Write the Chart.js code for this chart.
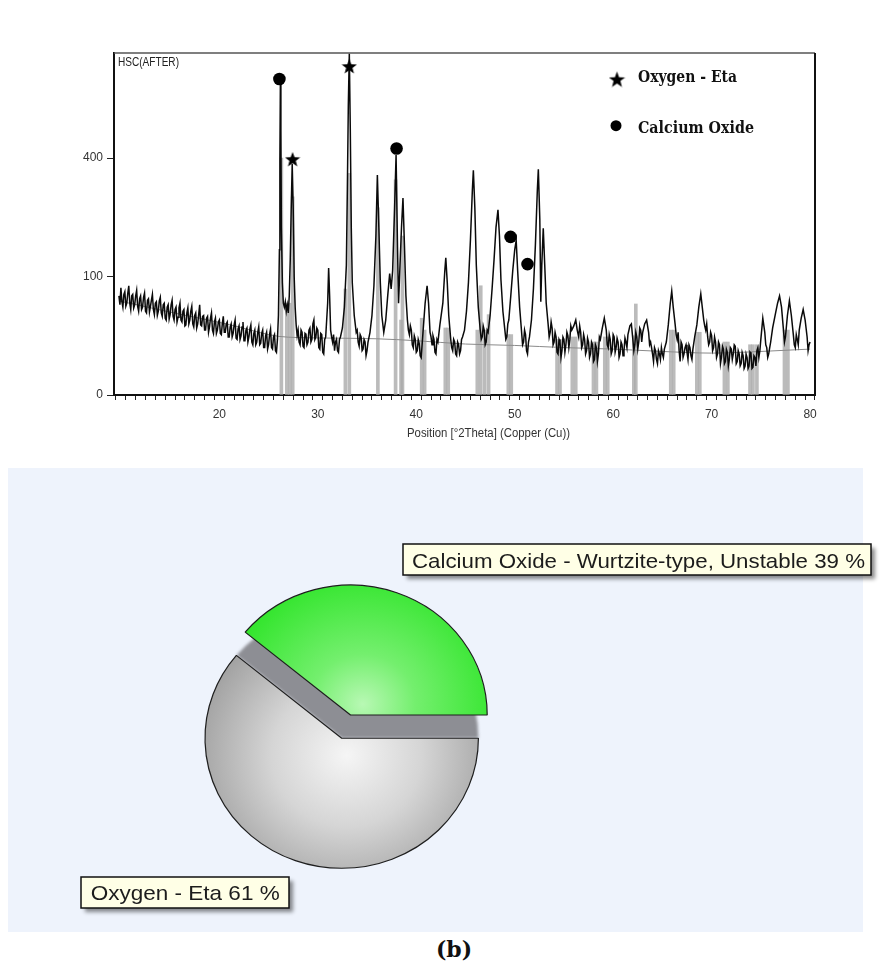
<!DOCTYPE html>
<html>
<head>
<meta charset="utf-8">
<script src="https://cdn.jsdelivr.net/npm/chart.js@4.4.1/dist/chart.umd.min.js"></script>
<style>
    html, body { margin: 0; padding: 0; background: #ffffff; }
    body { width: 888px; height: 966px; position: relative; overflow: hidden; }
    #cajaXrd { position: absolute; left: 0; top: 0; width: 888px; height: 466px; }
    #cajaTarta { position: absolute; left: 0; top: 467px; width: 888px; height: 465px; }
    #pie { position: absolute; left: 0; top: 936px; width: 908px; height: 28px; line-height: 28px;
           text-align: center; font: bold 22px 'DejaVu Serif', serif; color: #111; }
</style>
</head>
<body>
<div id="cajaXrd"><canvas id="graficaXrd"></canvas></div>
<div id="cajaTarta"><canvas id="graficaFases"></canvas></div>
<div id="pie">(b)</div>
<script>
// ---- data ----
const sampleName = 'HSC(AFTER)';
const xAxisTitle = 'Position [°2Theta] (Copper (Cu))';
const xTickLabels = [20, 30, 40, 50, 60, 70, 80];
const yTickValues = [0, 100, 400];

// measured pattern [2theta, counts]
const scan = [
    [9.8, 70], [9.9, 58], [10.0, 82], [10.1, 62], [10.2, 55], [10.3, 72], [10.4, 76], [10.5, 56],
    [10.6, 60], [10.7, 74], [10.8, 85], [10.9, 60], [11.0, 52], [11.1, 70], [11.2, 72], [11.3, 54],
    [11.4, 58], [11.5, 70], [11.6, 78], [11.7, 56], [11.8, 50], [11.9, 66], [12.0, 70], [12.1, 52],
    [12.2, 55], [12.3, 68], [12.4, 74], [12.5, 50], [12.6, 48], [12.7, 64], [12.8, 66], [12.9, 49],
    [13.0, 56], [13.1, 64], [13.2, 72], [13.3, 52], [13.4, 46], [13.5, 60], [13.6, 62], [13.7, 45],
    [13.8, 50], [13.9, 63], [14.0, 68], [14.1, 48], [14.2, 44], [14.3, 58], [14.4, 60], [14.5, 42],
    [14.6, 40], [14.7, 55], [14.8, 58], [14.9, 41], [15.0, 46], [15.1, 58], [15.2, 64], [15.3, 44],
    [15.4, 40], [15.5, 52], [15.6, 55], [15.7, 38], [15.8, 43], [15.9, 54], [16.0, 60], [16.1, 40],
    [16.2, 38], [16.3, 50], [16.4, 52], [16.5, 34], [16.6, 35], [16.7, 48], [16.8, 54], [16.9, 36],
    [17.0, 40], [17.1, 50], [17.2, 56], [17.3, 36], [17.4, 33], [17.5, 45], [17.6, 48], [17.7, 32],
    [17.8, 36], [17.9, 46], [18.0, 58], [18.1, 35], [18.2, 34], [18.3, 44], [18.4, 45], [18.5, 30],
    [18.6, 30], [18.7, 42], [18.8, 44], [18.9, 28], [19.0, 33], [19.1, 42], [19.2, 48], [19.3, 30],
    [19.4, 27], [19.5, 38], [19.6, 42], [19.7, 27], [19.8, 30], [19.9, 38], [20.0, 40], [20.1, 27],
    [20.2, 26], [20.3, 36], [20.4, 44], [20.5, 28], [20.6, 28], [20.7, 36], [20.8, 38], [20.9, 24],
    [21.0, 24], [21.1, 33], [21.2, 36], [21.3, 24], [21.4, 27], [21.5, 35], [21.6, 40], [21.7, 23],
    [21.8, 22], [21.9, 31], [22.0, 34], [22.1, 22], [22.2, 25], [22.3, 33], [22.4, 38], [22.5, 21],
    [22.6, 21], [22.7, 30], [22.8, 32], [22.9, 20], [23.0, 24], [23.1, 31], [23.2, 35], [23.3, 20],
    [23.4, 18], [23.5, 27], [23.6, 30], [23.7, 18], [23.8, 20], [23.9, 28], [24.0, 33], [24.1, 18],
    [24.2, 19], [24.3, 27], [24.4, 30], [24.5, 16], [24.6, 16], [24.7, 25], [24.8, 28], [24.9, 15],
    [25.0, 18], [25.1, 26], [25.2, 31], [25.3, 16], [25.4, 15], [25.5, 24], [25.6, 26], [25.7, 14],
    [25.8, 13], [25.9, 22], [26.0, 45], [26.1, 150], [26.15, 400], [26.2, 700], [26.25, 500], [26.3, 200],
    [26.4, 90], [26.5, 60], [26.6, 55], [26.7, 62], [26.8, 50], [26.9, 58], [27.0, 48], [27.1, 70],
    [27.2, 130], [27.3, 250], [27.4, 380], [27.5, 250], [27.6, 100], [27.7, 55], [27.8, 35], [27.9, 25],
    [28.0, 30], [28.1, 20], [28.2, 18], [28.3, 30], [28.4, 28], [28.5, 17], [28.6, 16], [28.7, 27],
    [28.8, 26], [28.9, 18], [29.0, 20], [29.1, 30], [29.2, 32], [29.3, 20], [29.4, 22], [29.5, 36],
    [29.6, 40], [29.7, 22], [29.8, 24], [29.9, 32], [30.0, 30], [30.1, 16], [30.2, 15], [30.3, 27],
    [30.4, 26], [30.5, 13], [30.6, 12], [30.7, 22], [30.8, 24], [31.0, 60],
    [31.1, 115], [31.2, 70], [31.3, 30], [31.4, 24], [31.5, 20], [31.6, 26], [31.7, 14], [31.8, 20],
    [31.9, 22], [32.0, 14], [32.1, 13], [32.2, 22], [32.3, 24],
    [32.5, 32], [32.7, 55], [32.9, 120], [33.0, 300], [33.1, 600], [33.2, 830], [33.3, 500], [33.4, 200],
    [33.5, 90], [33.7, 45], [33.9, 28], [34.0, 30], [34.1, 20], [34.2, 17], [34.3, 26], [34.4, 24],
    [34.5, 14], [34.6, 15], [34.7, 22], [34.8, 20], [34.9, 11], [35.0, 14],
    [35.1, 20], [35.3, 28], [35.5, 45], [35.7, 85], [35.9, 180], [36.05, 345], [36.2, 200], [36.35, 90],
    [36.5, 45], [36.7, 28], [36.9, 40], [37.1, 70], [37.3, 105], [37.45, 80], [37.6, 110], [37.8, 250],
    [37.95, 410], [38.1, 150], [38.2, 60], [38.35, 120], [38.5, 200], [38.65, 276], [38.8, 160], [38.95, 70],
    [39.1, 40], [39.2, 30], [39.3, 26], [39.4, 34], [39.5, 30], [39.6, 18], [39.7, 16], [39.8, 25],
    [39.9, 22], [40.0, 13], [40.1, 14], [40.2, 22], [40.3, 19], [40.4, 11], [40.5, 10],
    [40.7, 30], [40.9, 60], [41.1, 85], [41.25, 60], [41.4, 28], [41.5, 24], [41.6, 18], [41.7, 25],
    [41.8, 22], [41.9, 13], [42.0, 12], [42.1, 22],
    [42.2, 20], [42.4, 35], [42.7, 60], [42.9, 110], [43.0, 134], [43.15, 90], [43.3, 45], [43.5, 22],
    [43.6, 16], [43.7, 14], [43.8, 22], [43.9, 20], [44.0, 12], [44.1, 11], [44.2, 20], [44.3, 18],
    [44.4, 12], [44.5, 14], [44.6, 22], [44.7, 24], [44.9, 30], [45.1, 50],
    [45.3, 90], [45.5, 170], [45.7, 300], [45.8, 360], [45.95, 250], [46.1, 120], [46.3, 55], [46.5, 30],
    [46.6, 22], [46.7, 24], [46.8, 34], [46.9, 30], [47.0, 18], [47.1, 20], [47.2, 30], [47.3, 28],
    [47.5, 45], [47.7, 80], [47.9, 130], [48.1, 200],
    [48.3, 244], [48.45, 180], [48.6, 95], [48.8, 50], [49.0, 30], [49.1, 22], [49.2, 24], [49.3, 36],
    [49.4, 40], [49.6, 70],
    [49.8, 110], [50.0, 150], [50.15, 170], [50.3, 110], [50.5, 55], [50.7, 28], [50.8, 18], [50.9, 20],
    [51.0, 30], [51.1, 26], [51.2, 14], [51.3, 12], [51.4, 20], [51.5, 24], [51.7, 40], [51.9, 80],
    [52.1, 160], [52.3, 300], [52.4, 363], [52.55, 220],
    [52.65, 62], [52.75, 120], [52.9, 198], [53.05, 120], [53.2, 60], [53.4, 35], [53.5, 24], [53.6, 28],
    [53.7, 38], [53.8, 32], [53.9, 18], [54.0, 20], [54.1, 28], [54.2, 24], [54.3, 13], [54.4, 12],
    [54.5, 22], [54.6, 20], [54.7, 10], [54.8, 14], [54.9, 24], [55.0, 22], [55.1, 13], [55.2, 18],
    [55.3, 28], [55.4, 25], [55.5, 16], [55.6, 22], [55.7, 34], [55.8, 30], [56.0, 34], [56.2, 40],
    [56.35, 30], [56.5, 24], [56.6, 34], [56.7, 28], [56.8, 16], [56.9, 18], [57.0, 26], [57.1, 22],
    [57.2, 12], [57.3, 14], [57.4, 23], [57.5, 20], [57.6, 10], [57.7, 12], [57.8, 20], [57.9, 18],
    [58.0, 8], [58.1, 9], [58.2, 18], [58.3, 16], [58.4, 8], [58.5, 12], [58.6, 24], [58.7, 22],
    [58.9, 32], [59.1, 42], [59.3, 30], [59.4, 18], [59.5, 16], [59.6, 26], [59.7, 22], [59.8, 12],
    [59.9, 14], [60.0, 26], [60.1, 24], [60.2, 13], [60.3, 16], [60.4, 23], [60.5, 20], [60.6, 10],
    [60.7, 12], [60.8, 20], [60.9, 18], [61.0, 11], [61.1, 14], [61.2, 23], [61.3, 20], [61.4, 16],
    [61.5, 26], [61.7, 34], [61.85, 36], [62.0, 22], [62.1, 14], [62.2, 18], [62.3, 28], [62.4, 24],
    [62.5, 15], [62.6, 20], [62.7, 32], [62.8, 30], [62.9, 20], [63.0, 28], [63.2, 36], [63.4, 40],
    [63.6, 28], [63.7, 18], [63.8, 20], [63.9, 16], [64.0, 12], [64.1, 8], [64.2, 16], [64.3, 14],
    [64.4, 9], [64.5, 7], [64.6, 14], [64.7, 12], [64.8, 9], [64.9, 16], [65.0, 12], [65.1, 10],
    [65.2, 15], [65.4, 20], [65.6, 35], [65.8, 60], [65.95, 77], [66.1, 55], [66.3, 35], [66.4, 26],
    [66.5, 22], [66.6, 28], [66.7, 14], [66.8, 8], [66.9, 20], [67.0, 18], [67.1, 10], [67.2, 12],
    [67.3, 16], [67.4, 18], [67.5, 13], [67.6, 9], [67.7, 18], [67.8, 16], [67.9, 11], [68.0, 9],
    [68.1, 15], [68.3, 25], [68.5, 35], [68.7, 55], [68.9, 73], [69.05, 55], [69.2, 40], [69.3, 34],
    [69.4, 30], [69.5, 36], [69.6, 24], [69.7, 18], [69.8, 20], [69.9, 28], [70.0, 25], [70.1, 14],
    [70.2, 16], [70.3, 24], [70.4, 20], [70.5, 10], [70.6, 12], [70.7, 20], [70.8, 18], [70.9, 7],
    [71.0, 10], [71.1, 17], [71.2, 15], [71.3, 7], [71.4, 8], [71.5, 15], [71.6, 13], [71.7, 6],
    [71.8, 9], [71.9, 16], [72.0, 15], [72.1, 9], [72.2, 12], [72.3, 18], [72.4, 17], [72.5, 7],
    [72.6, 8], [72.7, 14], [72.8, 12], [72.9, 6], [73.0, 7], [73.1, 13], [73.2, 11], [73.3, 5],
    [73.4, 6], [73.5, 12], [73.6, 10], [73.7, 5], [73.8, 6], [73.9, 13], [74.0, 12], [74.1, 5],
    [74.2, 5.5], [74.3, 11], [74.4, 10], [74.5, 6], [74.6, 14], [74.7, 16], [74.8, 10], [74.9, 14],
    [75.0, 22], [75.2, 42], [75.4, 28], [75.5, 18], [75.6, 16], [75.7, 10], [75.8, 12], [75.9, 16],
    [76.0, 20], [76.2, 32], [76.5, 48], [76.7, 60], [76.9, 70], [77.1, 55], [77.3, 30], [77.4, 20],
    [77.5, 24], [77.7, 45], [77.9, 63], [78.1, 45], [78.3, 26], [78.4, 18], [78.5, 16], [78.6, 26],
    [78.7, 22], [78.8, 18], [78.9, 30], [79.1, 42], [79.3, 52], [79.5, 40], [79.7, 24], [79.8, 14],
    [79.9, 18], [80.0, 20]
];

// fitted background [2theta, counts]
const backgroundFit = [
    [9.8, 63], [12, 57], [14, 51.5], [16, 46.5], [18, 42], [20, 37.5], [22, 33], [24, 28],
    [26, 24.5], [28, 23.5], [32, 23], [36, 22.5], [40, 21], [45, 18.5], [50, 17.5], [55, 16],
    [60, 15], [65, 13.5], [70, 12.5], [75, 13.5], [80, 15]
];

// reference stick pattern [2theta, counts]
const sticks = [
    [26.3, 400], [26.85, 60], [27.15, 60], [27.45, 280], [32.8, 80], [33.2, 350], [36.1, 250],
    [37.9, 330], [38.45, 40], [38.6, 180], [40.55, 42], [40.85, 30], [42.95, 32], [43.25, 32],
    [46.2, 30], [46.55, 85], [46.95, 30], [47.35, 46], [49.35, 26], [49.65, 26], [54.3, 22],
    [54.6, 22], [55.85, 24], [56.2, 24], [58.0, 20], [58.3, 20], [59.15, 24], [59.45, 24],
    [62.1, 25], [62.3, 59], [65.85, 30], [66.15, 30], [68.5, 28], [68.8, 28], [71.3, 20],
    [71.65, 20], [73.9, 18], [74.2, 18], [74.6, 18], [77.4, 30], [77.75, 30]
];

// phase markers placed over the peaks [2theta, counts]
const oxygenEtaPeaks = [[27.44, 397], [33.2, 771]];
const calciumOxidePeaks = [[26.1, 711], [38.0, 433], [49.58, 178], [51.3, 122]];
const markerNames = ['Oxygen - Eta', 'Calcium Oxide'];

// phase quantification
const phaseNames = ['Oxygen - Eta', 'Calcium Oxide - Wurtzite-type, Unstable'];
const phaseShares = [61, 39];

// ---- helpers ----
const aPuntos = (lista) => lista.map(([x, y]) => ({ x: x, y: y }));

function dibujarTextoAjustado(ctx, texto, x, y, ancho, fuente, color) {
    ctx.save();
    ctx.font = fuente;
    ctx.fillStyle = color;
    ctx.textBaseline = 'alphabetic';
    ctx.textAlign = 'left';
    const medida = ctx.measureText(texto).width;
    ctx.translate(x, y);
    ctx.scale(ancho / medida, 1);
    ctx.fillText(texto, 0, 0);
    ctx.restore();
}

function crearEstrella(tamano) {
    const lienzo = document.createElement('canvas');
    lienzo.width = tamano;
    lienzo.height = tamano;
    const g = lienzo.getContext('2d');
    const r = tamano / 2;
    g.beginPath();
    for (let i = 0; i < 10; i++) {
        const ang = -Math.PI / 2 + i * Math.PI / 5;
        const rr = i % 2 ? r * 0.42 : r;
        g.lineTo(r + rr * Math.cos(ang), r + rr * Math.sin(ang) + tamano * 0.06);
    }
    g.closePath();
    g.fillStyle = '#000';
    g.fill();
    return lienzo;
}
const estrella = crearEstrella(16);
const estrellaLeyenda = crearEstrella(17);

// square-root intensity axis, as used by the diffractometer software
class EscalaRaiz extends Chart.LinearScale {
    static id = 'sqrt';
    static defaults = Chart.LinearScale.defaults;
    getPixelForValue(valor) {
        const bajo = Math.sqrt(Math.max(this.min, 0));
        const alto = Math.sqrt(this.max);
        return this.getPixelForDecimal((Math.sqrt(Math.max(valor, 0)) - bajo) / (alto - bajo));
    }
    getValueForPixel(pixel) {
        const bajo = Math.sqrt(Math.max(this.min, 0));
        const alto = Math.sqrt(this.max);
        const v = bajo + this.getDecimalForPixel(pixel) * (alto - bajo);
        return v * v;
    }
}
Chart.register(EscalaRaiz);

// ---- XRD pattern ----
const marcoXrd = {
    id: 'marcoXrd',
    afterDraw(grafica) {
        const ctx = grafica.ctx;
        const area = grafica.chartArea;
        ctx.save();
        ctx.strokeStyle = '#555';
        ctx.lineWidth = 1.6;
        ctx.beginPath();
        ctx.moveTo(area.left, area.top);
        ctx.lineTo(area.right, area.top);
        ctx.stroke();
        ctx.strokeStyle = '#111';
        ctx.lineWidth = 2;
        ctx.beginPath();
        ctx.moveTo(area.right, area.top);
        ctx.lineTo(area.right, area.bottom);
        ctx.stroke();

        dibujarTextoAjustado(ctx, sampleName, area.left + 4, area.top + 13, 61, '12.5px "Liberation Sans"', '#222');
        dibujarTextoAjustado(ctx, xAxisTitle, area.left + 293, area.bottom + 42, 163, '12.5px "Liberation Sans"', '#333');

        ctx.drawImage(estrellaLeyenda, area.left + 503 - 8.5, area.top + 26 - 8.5);
        dibujarTextoAjustado(ctx, markerNames[0], area.left + 524, area.top + 29, 99, 'bold 16px "DejaVu Serif"', '#111');
        ctx.fillStyle = '#000';
        ctx.beginPath();
        ctx.arc(area.left + 502, area.top + 72.7, 5.5, 0, Math.PI * 2);
        ctx.fill();
        dibujarTextoAjustado(ctx, markerNames[1], area.left + 524, area.top + 80, 116, 'bold 16px "DejaVu Serif"', '#111');
        ctx.restore();
    }
};

new Chart(document.getElementById('graficaXrd'), {
    type: 'line',
    data: {
        datasets: [{
            label: markerNames[0],
            data: aPuntos(oxygenEtaPeaks),
            showLine: false,
            pointStyle: estrella,
            pointRadius: 8,
            order: 0
        }, {
            label: markerNames[1],
            data: aPuntos(calciumOxidePeaks),
            showLine: false,
            pointStyle: 'circle',
            pointRadius: 6.3,
            pointBackgroundColor: '#000',
            pointBorderColor: '#000',
            pointBorderWidth: 0,
            order: 1
        }, {
            label: sampleName,
            data: aPuntos(scan),
            borderColor: '#0a0a0a',
            borderWidth: 1.5,
            pointRadius: 0,
            tension: 0,
            order: 2
        }, {
            label: 'Background',
            data: aPuntos(backgroundFit),
            borderColor: '#8a8a8a',
            borderWidth: 1,
            pointRadius: 0,
            cubicInterpolationMode: 'monotone',
            order: 3
        }, {
            type: 'bar',
            label: 'Reference',
            data: aPuntos(sticks),
            backgroundColor: 'rgba(170,170,170,0.8)',
            borderWidth: 0,
            barThickness: 3,
            order: 4
        }]
    },
    options: {
        responsive: true,
        maintainAspectRatio: false,
        animation: false,
        layout: {
            padding: { left: 0, right: 73, top: 53, bottom: 0 }
        },
        plugins: {
            legend: { display: false },
            tooltip: { enabled: false }
        },
        scales: {
            x: {
                type: 'linear',
                min: 9.8,
                max: 80,
                afterFit: (escala) => { escala.height = 71; },
                border: { display: true, color: '#111', width: 2 },
                grid: { drawOnChartArea: false, drawTicks: true, tickLength: 5, color: '#222' },
                ticks: {
                    stepSize: 1,
                    includeBounds: false,
                    autoSkip: false,
                    maxRotation: 0,
                    padding: 7,
                    color: '#333',
                    font: { family: 'Liberation Sans', size: 12 },
                    callback: (valor) => xTickLabels.includes(valor) ? String(valor) : ''
                }
            },
            y: {
                type: 'sqrt',
                min: 0,
                max: 833,
                afterFit: (escala) => { escala.width = 114; },
                afterBuildTicks: (escala) => { escala.ticks = yTickValues.map(v => ({ value: v })); },
                border: { display: true, color: '#111', width: 2 },
                grid: { drawOnChartArea: false, drawTicks: true, tickLength: 7, color: '#222' },
                ticks: {
                    padding: 4,
                    color: '#333',
                    font: { family: 'Liberation Sans', size: 12 },
                    callback: (valor) => String(valor)
                }
            }
        }
    },
    plugins: [marcoXrd]
});

// ---- phase pie ----
const separacion = 26;
const aplastado = 0.951;

const decoradoTarta = {
    id: 'decoradoTarta',
    beforeDraw(grafica) {
        const ctx = grafica.ctx;
        ctx.save();
        ctx.fillStyle = '#eef3fc';
        ctx.fillRect(8, 1, 855, 464);
        ctx.restore();
    },
    afterUpdate(grafica) {
        // explode the minority slice along its bisector
        const arco = grafica.getDatasetMeta(0).data[1];
        const medio = (arco.startAngle + arco.endAngle) / 2;
        arco.x += Math.cos(medio) * separacion;
        arco.y += Math.sin(medio) * separacion;
    },
    beforeDatasetsDraw(grafica) {
        const ctx = grafica.ctx;
        const area = grafica.chartArea;
        const cx = (area.left + area.right) / 2;
        const cy = (area.top + area.bottom) / 2;
        ctx.save();
        ctx.translate(cx, cy);
        ctx.scale(1, aplastado);
        ctx.translate(-cx, -cy);
        // the slice's footprint left behind in the pie
        const arco = grafica.getDatasetMeta(0).data[1];
        ctx.save();
        ctx.filter = 'blur(1.5px)';
        ctx.fillStyle = '#8d8e94';
        ctx.beginPath();
        ctx.moveTo(cx, cy);
        ctx.arc(cx, cy, arco.outerRadius, arco.startAngle, arco.endAngle);
        ctx.closePath();
        ctx.fill();
        ctx.restore();
    },
    afterDatasetsDraw(grafica) {
        grafica.ctx.restore();
    },
    afterDraw(grafica) {
        const ctx = grafica.ctx;
        const cajas = [
            { x: 81, y: 410, w: 208, h: 31, tx: 90.7, ty: 433, tw: 189 },
            { x: 403, y: 77, w: 468, h: 31, tx: 412, ty: 101, tw: 453 }
        ];
        cajas.forEach((c, i) => {
            ctx.save();
            ctx.shadowColor = 'rgba(0,0,0,0.45)';
            ctx.shadowBlur = 4;
            ctx.shadowOffsetX = 4;
            ctx.shadowOffsetY = 4;
            ctx.fillStyle = '#ffffe6';
            ctx.fillRect(c.x, c.y, c.w, c.h);
            ctx.restore();
            ctx.save();
            ctx.strokeStyle = '#111';
            ctx.lineWidth = 1.5;
            ctx.strokeRect(c.x, c.y, c.w, c.h);
            ctx.restore();
            const texto = phaseNames[i] + ' ' + phaseShares[i] + ' %';
            dibujarTextoAjustado(ctx, texto, c.tx, c.ty, c.tw, '21px "Liberation Sans"', '#1c1c1c');
        });
    }
};

function colorRebanada(contexto) {
    const grafica = contexto.chart;
    const area = grafica.chartArea;
    if (!area) return contexto.dataIndex === 0 ? '#cccccc' : '#44e844';
    const cx = (area.left + area.right) / 2;
    const cy = (area.top + area.bottom) / 2;
    const ctx = grafica.ctx;
    if (contexto.dataIndex === 0) {
        const g = ctx.createRadialGradient(cx + 5, cy + 18, 0, cx + 5, cy + 18, 150);
        g.addColorStop(0, '#f5f5f5');
        g.addColorStop(0.5, '#d5d5d5');
        g.addColorStop(1, '#a3a3a3');
        return g;
    }
    const g = ctx.createRadialGradient(cx + 21, cy - 36, 0, cx + 21, cy - 36, 150);
    g.addColorStop(0, '#b8f8b4');
    g.addColorStop(0.35, '#74ef6e');
    g.addColorStop(1, '#2ae424');
    return g;
}

new Chart(document.getElementById('graficaFases'), {
    type: 'pie',
    data: {
        labels: phaseNames,
        datasets: [{
            data: phaseShares,
            backgroundColor: colorRebanada,
            borderColor: '#1e1e1e',
            borderWidth: 1.2,
            hoverOffset: 0,
            clip: false
        }]
    },
    options: {
        responsive: true,
        maintainAspectRatio: false,
        animation: false,
        rotation: 90,
        radius: 136.7,
        layout: {
            padding: { left: 151.7, right: 356.3, top: 81.3, bottom: 3.7 }
        },
        plugins: {
            legend: { display: false },
            tooltip: { enabled: false }
        }
    },
    plugins: [decoradoTarta]
});
</script>
</body>
</html>
